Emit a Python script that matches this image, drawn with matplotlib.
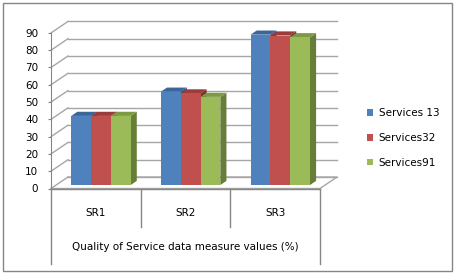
import matplotlib
matplotlib.use("Agg")
import matplotlib.pyplot as plt
from matplotlib.patches import Polygon, Patch, Rectangle
import numpy as np

categories = ["SR1", "SR2", "SR3"]
series_names = ["Services 13", "Services32", "Services91"]
services13 = [40, 54, 87]
services32 = [40, 53, 86.5]
services91 = [40, 51, 85.5]
yticks = list(range(0, 100, 10))
xlabel = "Quality of Service data measure values (%)"

colors = ["#4F81BD", "#C0504D", "#9BBB59"]
tops = ["#3C6598", "#9A3C3A", "#7C9A44"]
sides = ["#30517A", "#7D302E", "#677E38"]
grid_c = "#A6A6A6"
axis_c = "#868686"

W, H = 454, 275
fig = plt.figure(figsize=(W / 100, H / 100), dpi=100)
plt.rcParams['font.family'] = ['DejaVu Sans']
FS = 7.5

# axes region in pixel terms
left_px, right_px, bottom_px, top_px = 51, 320, 188.5, 21
ax = fig.add_axes([left_px / W, 1 - bottom_px / H, (right_px - left_px) / W, (bottom_px - top_px) / H])
ax.set_xlim(-0.5, 2.5)
ymax = 96.9
ax.set_ylim(0, ymax)
ax.patch.set_alpha(0)

ppx = (right_px - left_px) / 3.0          # px per x unit
ppy = (bottom_px - top_px) / ymax          # px per y unit
dx = 17 / ppx
dy = 11.5 / ppy
f0, f1 = 0.30, 0.66

# back wall gridlines + side wall diagonals
for v in yticks:
    ax.plot([-0.5 + dx, 2.5 + dx], [v + dy, v + dy], color=grid_c, lw=1, clip_on=False, zorder=1)
    ax.plot([-0.5, -0.5 + dx], [v, v + dy], color=grid_c, lw=1, clip_on=False, zorder=1)
# floor
ax.plot([-0.5, 2.5, 2.5 + dx, -0.5 + dx], [0, 0, dy, dy], color=grid_c, lw=1, clip_on=False, zorder=1)

# bars
data = [services13, services32, services91]
group_w = 0.663
bw = group_w / 3
z = 3
for i in range(len(categories)):
    for j in range(3):
        v = data[j][i]
        xl = i - group_w / 2 + j * bw + f0 * dx
        b = f0 * dy
        ddx = (f1 - f0) * dx
        ddy = (f1 - f0) * dy
        ax.bar(xl, v, width=bw, bottom=b, align='edge', color=colors[j], lw=0, zorder=z + 2)
        ax.add_patch(Polygon([(xl, b + v), (xl + bw, b + v), (xl + bw + ddx, b + v + ddy), (xl + ddx, b + v + ddy)],
                             closed=True, color=tops[j], lw=0, zorder=z + 1, clip_on=False))
        ax.add_patch(Polygon([(xl + bw, b), (xl + bw + ddx, b + ddy), (xl + bw + ddx, b + v + ddy), (xl + bw, b + v)],
                             closed=True, color=sides[j], lw=0, zorder=z, clip_on=False))
        z += 3

# axes styling
for s in ["top", "right", "bottom"]:
    ax.spines[s].set_visible(False)
ax.spines["left"].set_color(axis_c)
ax.spines["left"].set_bounds(0, 90)
ax.set_yticks(yticks)
ax.set_yticklabels([str(t) for t in yticks], fontsize=FS, color="black")
ax.tick_params(axis="y", length=3 * 0.72, color=axis_c, pad=7, direction="out")
ax.set_xticks(range(len(categories)))
ax.set_xticklabels(categories, fontsize=FS)
ax.tick_params(axis="x", length=0, pad=14)
ax.set_xlabel(xlabel, fontsize=FS, labelpad=17)

# category separators
inner_v = -(227 - bottom_px) / ppy
outer_v = -(264 - bottom_px) / ppy
for xs in [-0.5, 0.5, 1.5, 2.5]:
    lo = outer_v if xs in (-0.5, 2.5) else inner_v
    ax.plot([xs, xs], [0, lo], color=axis_c, lw=1, clip_on=False, zorder=2)
ax.plot([-0.5, 2.5], [0, 0], color=axis_c, lw=1, clip_on=False, zorder=2)

# legend
handles = [Patch(facecolor=c, edgecolor='none') for c in colors]
fig.legend(handles, series_names, loc="upper left", bbox_to_anchor=(363 / W, 1 - 104 / H),
           frameon=False, fontsize=FS, handlelength=0.6, handleheight=0.6,
           handletextpad=0.5, labelspacing=1.42, borderaxespad=0)

# outer border
fig.patches.append(Rectangle((3 / W, 1 - 271 / H), 449 / W, 268 / H, transform=fig.transFigure,
                             fill=False, edgecolor=axis_c, lw=1))

fig.savefig("out.png", dpi=100)
